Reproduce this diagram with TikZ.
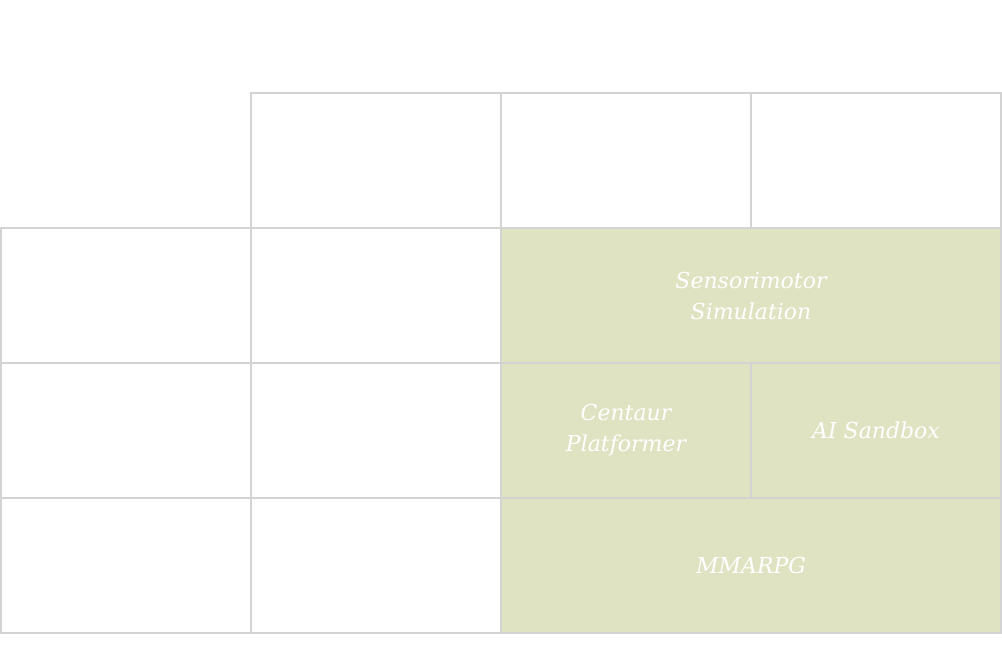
\documentclass[tikz,border=0pt]{standalone}
\usepackage{fontspec}
\setmainfont{DejaVu Serif}
\definecolor{gridline}{HTML}{D3D3D3}
\definecolor{cellgreen}{HTML}{DFE3C2}
\begin{document}
\begin{tikzpicture}[x=0.75pt,y=-0.75pt,
  cell/.style={draw=gridline,line width=1.5pt,inner sep=0pt},
  gcell/.style={cell,fill=cellgreen,text=white,font=\itshape\fontsize{16.5}{23.25}\selectfont,align=center}]
\useasboundingbox (0,0) rectangle (1002,661);
% top row
\node[cell,minimum width=250*0.75pt,minimum height=135*0.75pt] (t1) at (376,160.5) {};
\node[cell,minimum width=250*0.75pt,minimum height=135*0.75pt] (t2) at (626,160.5) {};
\node[cell,minimum width=250*0.75pt,minimum height=135*0.75pt] (t3) at (876,160.5) {};
% left columns
\foreach \r/\y in {1/295.5,2/430.5,3/565.5}{
  \node[cell,minimum width=250*0.75pt,minimum height=135*0.75pt] (a\r) at (126,\y) {};
  \node[cell,minimum width=250*0.75pt,minimum height=135*0.75pt] (b\r) at (376,\y) {};
}
\node[gcell,minimum width=500*0.75pt,minimum height=135*0.75pt] (sens) at (751,295.5) {Sensorimotor\\Simulation};
\node[gcell,minimum width=250*0.75pt,minimum height=135*0.75pt] (cent) at (626,430.5) {Centaur\\Platformer};
\node[gcell,minimum width=250*0.75pt,minimum height=135*0.75pt] (ais) at (876,430.5) {AI Sandbox};
\node[gcell,minimum width=500*0.75pt,minimum height=135*0.75pt] (mmo) at (751,565.5) {MMARPG};
\end{tikzpicture}
\end{document}
